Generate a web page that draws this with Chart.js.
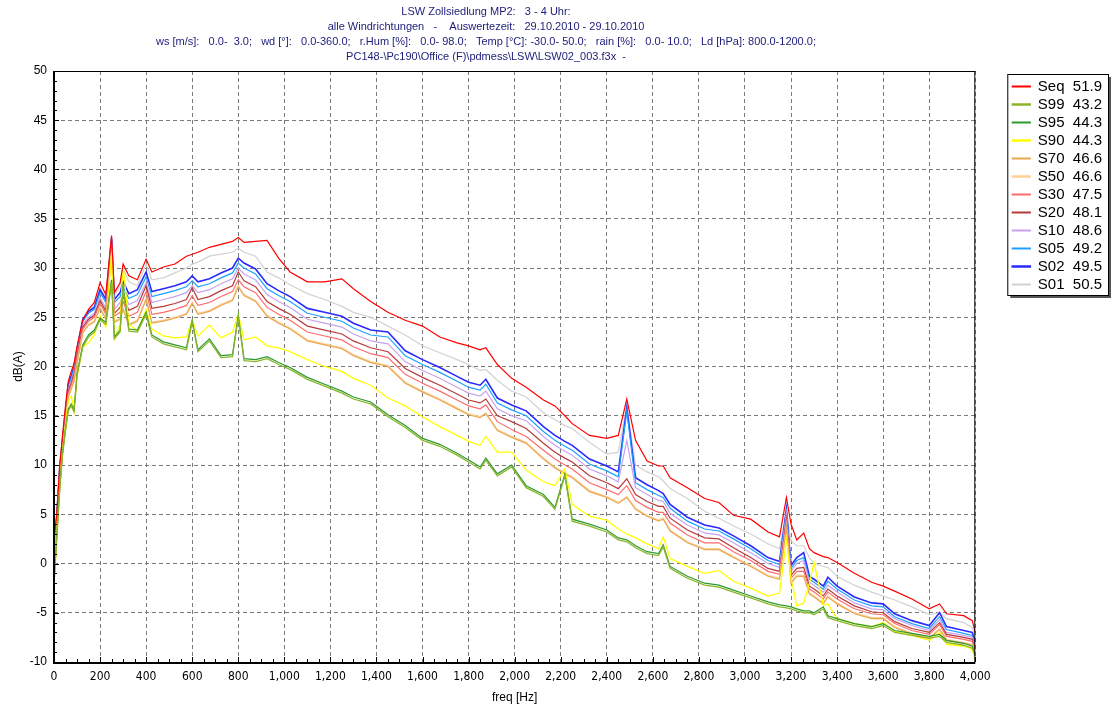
<!DOCTYPE html>
<html><head><meta charset="utf-8">
<script src="https://cdn.jsdelivr.net/npm/chart.js@4.4.1/dist/chart.umd.min.js"></script>
<style>html,body{margin:0;padding:0;background:#fff;}#wrap{position:relative;width:1112px;height:705px;}</style>
</head><body><div id="wrap"><canvas id="c" width="1112" height="705"></canvas></div>
<script>
const titleLines = [
  'LSW Zollsiedlung MP2:   3 - 4 Uhr:',
  'alle Windrichtungen   -    Auswertezeit:   29.10.2010 - 29.10.2010',
  'ws [m/s]:   0.0-  3.0;   wd [°]:   0.0-360.0;   r.Hum [%]:   0.0- 98.0;   Temp [°C]: -30.0- 50.0;   rain [%]:   0.0- 10.0;   Ld [hPa]: 800.0-1200.0;',
  'PC148-\\Pc190\\Office (F)\\pdmess\\LSW\\LSW02_003.f3x  -'
];
const xTitle = 'freq [Hz]';
const yTitle = 'dB(A)';
const seriesNames = ['Seq', 'S99', 'S95', 'S90', 'S70', 'S50', 'S30', 'S20', 'S10', 'S05', 'S02', 'S01'];
const seriesTotals = ['51.9', '43.2', '44.3', '44.3', '46.6', '46.6', '47.5', '48.1', '48.6', '49.2', '49.5', '50.5'];

const freq = [0, 12, 25, 37, 50, 62, 75, 87, 100, 125, 150, 175, 200, 225, 250, 262, 287, 300, 325, 362,
  400, 425, 475, 525, 575, 600, 625, 675, 725, 775, 800, 825, 875, 925, 975, 1025, 1100, 1175, 1250, 1300,
  1375, 1450, 1525, 1600, 1675, 1750, 1800, 1850, 1875, 1925, 1987, 2050, 2125, 2175, 2218, 2250, 2325, 2400, 2450, 2487,
  2525, 2575, 2625, 2645, 2675, 2750, 2825, 2887, 2950, 3025, 3100, 3150, 3180, 3200, 3225, 3255, 3280, 3300, 3340, 3360,
  3400, 3475, 3550, 3600, 3650, 3725, 3800, 3845, 3875, 3950, 3987, 4000];

const seq = [2.5, 5, 10, 13, 16, 18.5, 19.5, 20.3, 22, 24.7, 25.8, 26.5, 28.5, 27.3, 33.3, 27.5, 28.5, 30.4, 29.2, 28.8,
  30.9, 29.6, 30.1, 30.4, 31.2, 31.4, 31.6, 32.1, 32.4, 32.7, 33.1, 32.6, 32.7, 32.8, 31.0, 29.6, 28.6, 28.6, 28.9, 27.9,
  26.6, 25.5, 24.7, 24.1, 23.0, 22.4, 22.1, 21.7, 21.9, 20.2, 18.8, 17.9, 16.6, 16.0, 15.0, 14.2, 13.0, 12.7, 13.0, 16.7,
  12.5, 10.4, 9.9, 9.9, 8.7, 7.7, 6.6, 6.2, 4.9, 4.5, 3.2, 2.7, 6.7, 4.0, 2.4, 3.1, 1.5, 1.1, 0.7, 0.6,
  0.1, -1.0, -1.9, -2.3, -2.8, -3.6, -4.6, -4.1, -5.1, -5.3, -5.8, -7.0];
const s99 = [-2, 2.5, 7.5, 11, 13.5, 15.5, 16, 15.4, 19.1, 22, 23, 23.5, 24.7, 24.3, 28.5, 22.8, 23.5, 27.9, 23.6, 23.5,
  25.3, 23.0, 22.3, 22.0, 21.7, 24.5, 21.5, 22.6, 20.9, 21.0, 25.0, 20.6, 20.5, 20.8, 20.2, 19.7, 18.7, 18.0, 17.3, 16.7,
  16.2, 14.9, 13.8, 12.5, 11.9, 11.0, 10.3, 9.6, 10.5, 8.9, 9.8, 7.7, 6.8, 5.5, 8.9, 4.3, 3.8, 3.2, 2.4, 2.2,
  1.6, 1.0, 0.8, 1.7, -0.5, -1.5, -2.2, -2.4, -2.9, -3.5, -4.1, -4.4, -4.5, -4.6, -4.8, -5.0, -5.0, -5.2, -4.6, -5.5,
  -5.8, -6.3, -6.6, -6.3, -7.0, -7.3, -7.6, -7.4, -8.0, -8.3, -8.6, -9.4];
const s95 = [-1.8, 2.7, 7.7, 11.2, 13.7, 15.7, 16.2, 15.6, 19.3, 22.2, 23.2, 23.7, 24.9, 24.5, 28.8, 23.0, 23.7, 28.1, 23.8, 23.7,
  25.5, 23.2, 22.5, 22.2, 21.9, 24.7, 21.7, 22.8, 21.1, 21.2, 25.2, 20.8, 20.7, 21.0, 20.4, 19.9, 18.9, 18.2, 17.5, 16.9,
  16.4, 15.1, 14.0, 12.7, 12.1, 11.2, 10.5, 9.8, 10.7, 9.1, 10.0, 7.9, 7.0, 5.7, 9.1, 4.5, 4.0, 3.4, 2.6, 2.4,
  1.8, 1.2, 1.0, 1.9, -0.3, -1.3, -2.0, -2.2, -2.7, -3.3, -3.9, -4.2, -4.3, -4.4, -4.6, -4.8, -4.8, -5.0, -4.4, -5.3,
  -5.6, -6.1, -6.4, -6.1, -6.8, -7.1, -7.4, -7.2, -7.8, -8.1, -8.4, -9.2];
const s90 = [-2.5, 3, 8, 11.5, 14, 16.5, 17, 15.4, 19, 22, 22.4, 23.2, 25.2, 24, 31.5, 22.8, 24.3, 30.2, 24.3, 23.6,
  25.8, 23.8, 23.1, 22.9, 23.0, 24.7, 23.1, 24.2, 22.9, 23.5, 25.3, 22.7, 23.0, 22.1, 21.9, 21.5, 20.7, 20.0, 19.5, 18.8,
  18.1, 16.8, 16.0, 14.9, 13.9, 13.0, 12.4, 12.0, 12.9, 11.3, 11.3, 9.5, 8.3, 7.9, 9.6, 6.0, 4.8, 4.4, 3.5, 3.0,
  2.6, 2.0, 1.5, 2.7, 0.5, -0.3, -1.0, -0.7, -1.8, -2.5, -3.3, -3.0, 2.5, -1.5, -4.3, -4.0, -2.0, 0.1, -4.2, -4.1,
  -5.6, -6.1, -6.4, -6.0, -6.9, -7.3, -7.8, -7.0, -8.2, -8.4, -8.7, -9.7];
const s70 = [0.2, 3.7, 8.6, 11.3, 14.2, 16.9, 17.7, 18.5, 20.3, 23.4, 24.2, 24.5, 25.9, 24.8, 31.6, 24.5, 24.8, 25.8, 24.2, 24.6,
  26.8, 24.4, 24.6, 24.9, 25.3, 26.4, 25.3, 25.6, 26.2, 26.7, 28.1, 27.2, 26.6, 25.1, 24.4, 23.8, 22.6, 22.2, 21.8, 21.1,
  20.4, 20.0, 18.3, 17.4, 16.6, 15.7, 15.1, 14.8, 15.2, 13.5, 12.8, 12.2, 10.6, 9.7, 9.1, 8.7, 7.3, 6.7, 6.1, 6.7,
  5.5, 4.8, 4.3, 4.5, 3.3, 2.1, 1.4, 1.4, 0.6, -0.3, -1.3, -1.6, 3.7, -2.0, -1.3, -1.3, -3.1, -3.4, -4.1, -3.4,
  -4.1, -5.1, -5.6, -5.6, -6.5, -7.2, -7.6, -6.7, -7.8, -8.1, -8.3, -9.3];
const s50 = [0.3, 3.8, 8.7, 11.4, 14.3, 17.0, 17.8, 18.6, 20.4, 23.5, 24.3, 24.6, 26.0, 24.9, 31.7, 24.6, 24.9, 25.9, 24.3, 24.7,
  26.9, 24.5, 24.7, 25.0, 25.4, 26.5, 25.4, 25.7, 26.3, 26.8, 28.2, 27.3, 26.7, 25.2, 24.5, 23.9, 22.7, 22.3, 21.9, 21.2,
  20.5, 20.1, 18.4, 17.5, 16.7, 15.8, 15.2, 14.9, 15.3, 13.6, 12.9, 12.3, 10.7, 9.8, 9.2, 8.8, 7.4, 6.8, 6.2, 6.8,
  5.6, 4.9, 4.4, 4.6, 3.4, 2.2, 1.5, 1.5, 0.7, -0.2, -1.2, -1.5, 3.8, -1.9, -1.2, -1.2, -3.0, -3.3, -4.0, -3.3,
  -4.0, -5.0, -5.5, -5.5, -6.4, -7.1, -7.5, -6.6, -7.7, -8.0, -8.2, -9.2];
const s30 = [0.6, 4.0, 8.9, 11.6, 14.6, 17.3, 18.1, 19.0, 20.8, 23.8, 24.6, 25.0, 26.4, 25.3, 32.0, 25.1, 25.5, 26.6, 25.1, 25.5,
  27.6, 25.3, 25.5, 25.8, 26.2, 27.2, 26.2, 26.5, 27.1, 27.6, 28.8, 28.1, 27.5, 26.0, 25.3, 24.7, 23.5, 23.1, 22.7, 22.0,
  21.3, 20.9, 19.2, 18.3, 17.5, 16.6, 16.0, 15.7, 16.1, 14.4, 13.6, 12.9, 11.5, 10.6, 10.0, 9.6, 8.2, 7.5, 7.0, 7.9,
  6.4, 5.7, 5.2, 5.2, 4.1, 2.9, 2.1, 2.1, 1.2, 0.3, -0.8, -1.1, 4.2, -1.5, -0.8, -0.8, -2.6, -2.9, -3.6, -2.9,
  -3.6, -4.6, -5.1, -5.2, -6.1, -6.8, -7.2, -6.2, -7.4, -7.7, -7.9, -8.9];
const s20 = [0.8, 4.2, 9.1, 11.8, 14.8, 17.5, 18.3, 19.3, 21.1, 24.0, 24.8, 25.2, 26.7, 25.6, 32.2, 25.4, 26.0, 27.1, 25.7, 26.1,
  28.2, 25.9, 26.1, 26.4, 26.8, 28.0, 26.8, 27.1, 27.7, 28.2, 29.6, 28.7, 28.1, 26.6, 25.9, 25.3, 24.1, 23.7, 23.3, 22.6,
  21.9, 21.5, 19.8, 18.9, 18.1, 17.2, 16.6, 16.3, 16.7, 15.0, 14.4, 13.7, 12.2, 11.3, 10.7, 10.3, 8.9, 8.2, 7.6, 8.6,
  7.0, 6.3, 5.8, 5.8, 4.6, 3.4, 2.6, 2.5, 1.6, 0.6, -0.5, -0.8, 4.5, -1.2, -0.5, -0.4, -2.3, -2.6, -3.3, -2.6,
  -3.3, -4.3, -4.9, -5.0, -5.9, -6.6, -7.0, -6.0, -7.2, -7.5, -7.7, -8.7];
const s10 = [1.1, 4.4, 9.3, 12.0, 15.0, 17.7, 18.5, 19.5, 21.3, 24.3, 25.0, 25.4, 27.0, 25.9, 32.5, 25.8, 26.5, 27.5, 26.3, 26.7,
  28.5, 26.5, 26.8, 27.1, 27.5, 28.2, 27.5, 27.8, 28.4, 28.9, 30.0, 29.4, 28.8, 27.3, 26.6, 26.0, 24.8, 24.4, 24.0, 23.3,
  22.6, 22.3, 20.5, 19.6, 18.8, 17.9, 17.3, 17.0, 17.5, 15.7, 15.0, 14.5, 12.9, 12.0, 11.4, 11.0, 9.6, 8.9, 8.3, 12.5,
  7.7, 7.0, 6.4, 6.3, 5.1, 3.9, 3.1, 2.9, 2.1, 1.1, 0.0, -0.4, 5.0, -0.8, 0.0, 0.3, -1.9, -2.2, -2.9, -2.2,
  -2.9, -4.0, -4.6, -4.7, -5.6, -6.3, -6.8, -5.7, -7.0, -7.3, -7.5, -8.5];
const s05 = [1.3, 4.6, 9.6, 12.3, 15.3, 18, 18.8, 19.8, 21.6, 24.6, 25.4, 25.8, 27.5, 26.5, 32.8, 26.5, 27.1, 28.1, 26.9, 27.3,
  29.1, 27.1, 27.4, 27.7, 28.1, 28.7, 28.1, 28.4, 29.0, 29.5, 30.5, 30.0, 29.4, 27.9, 27.2, 26.6, 25.4, 25.0, 24.6, 23.9,
  23.2, 23.0, 21.1, 20.2, 19.4, 18.5, 17.9, 17.6, 18.2, 16.3, 15.6, 15.0, 13.4, 12.5, 11.9, 11.5, 10.1, 9.4, 8.8, 15.5,
  8.2, 7.5, 6.9, 6.7, 5.6, 4.3, 3.5, 3.3, 2.5, 1.5, 0.3, -0.1, 5.3, -0.5, 0.3, 0.6, -1.6, -1.9, -2.6, -1.8,
  -2.6, -3.7, -4.3, -4.4, -5.4, -6.1, -6.6, -5.4, -6.7, -7.1, -7.3, -8.3];
const s02 = [1.5, 4.8, 9.8, 12.5, 15.5, 18.2, 19, 20, 21.8, 24.8, 25.6, 26, 27.8, 26.8, 33, 26.8, 27.5, 28.6, 27.4, 27.8,
  29.6, 27.6, 27.9, 28.2, 28.6, 29.2, 28.6, 28.9, 29.5, 30.0, 31.0, 30.5, 29.9, 28.4, 27.7, 27.1, 25.9, 25.5, 25.1, 24.4,
  23.7, 23.5, 21.6, 20.7, 19.9, 19.0, 18.4, 18.1, 18.7, 16.8, 16.1, 15.5, 13.9, 13.0, 12.4, 12.0, 10.6, 9.9, 9.3, 15.8,
  8.7, 8.0, 7.4, 7.1, 6.0, 4.7, 3.9, 3.6, 2.8, 1.8, 0.6, 0.2, 5.5, -0.2, 0.6, 1.1, -1.3, -1.6, -2.3, -1.4,
  -2.3, -3.4, -4.0, -4.1, -5.1, -5.8, -6.3, -5.0, -6.4, -6.8, -7.0, -8.0];
const s01 = [2, 4.5, 9.5, 12.8, 15.5, 18, 19.2, 20, 21.7, 24.5, 25.6, 26.2, 28, 27, 33, 27.2, 28.2, 30, 28.6, 28.2,
  30.4, 28.8, 29, 29.5, 30, 30.4, 30.6, 31.2, 31.4, 31.6, 32.0, 31.6, 31.2, 29.6, 29.0, 28.3, 27.4, 26.8, 26.1, 25.5,
  25.0, 24.1, 23.2, 22.1, 21.4, 20.7, 20.2, 19.6, 19.7, 18.6, 17.5, 16.9, 15.3, 14.6, 14.0, 13.7, 12.3, 11.1, 11.3, 16.0,
  10.0, 9.3, 8.8, 8.4, 7.6, 6.6, 5.3, 4.6, 3.8, 3.0, 2.0, 1.5, 5.2, 2.3, 1.8, 1.8, 0.6, 0.0, -0.3, -0.4,
  -1.3, -2.2, -2.9, -3.3, -3.7, -4.4, -5.2, -5.0, -5.6, -6.0, -6.5, -7.3];

const seriesValues = [seq, s99, s95, s90, s70, s50, s30, s20, s10, s05, s02, s01];
const seriesColors = ['#ff0000', '#8db52a', '#2e9a2e', '#ffff00', '#e8a850', '#ffcf99', '#ff6a6a', '#b83a3a', '#c7a3ee', '#1ea0ff', '#2a2aff', '#d2d2d2'];
const seriesWidths = [1.2, 1.3, 1.2, 1.3, 1.2, 1.3, 1.2, 1.2, 1.2, 1.2, 1.6, 1.2];

const datasets = seriesNames.map((n, k) => ({
  label: n + '  ' + seriesTotals[k],
  data: freq.map((f, i) => ({x: f, y: seriesValues[k][i]})),
  borderColor: seriesColors[k],
  backgroundColor: seriesColors[k],
  borderWidth: seriesWidths[k],
  pointRadius: 0,
  tension: 0,
  fill: false
}));

const FONT = "'Liberation Sans', Arial, sans-serif";

const titlePlugin = {
  id: 'multiTitle',
  afterDraw(chart) {
    const ctx = chart.ctx;
    ctx.save();
    ctx.fillStyle = '#1c1c7a';
    ctx.font = '11px ' + FONT;
    ctx.textAlign = 'center';
    ctx.textBaseline = 'middle';
    titleLines.forEach((t, i) => ctx.fillText(t, 486, 12 + i * 15));
    ctx.restore();
  }
};

const spacerPlugin = {
  id: 'legendSpacer',
  beforeInit(chart) {
    if (!Chart.layouts) return;
    const box = {
      position: 'right', weight: -10, fullSize: false, options: {},
      width: 0, height: 0, top: 0, left: 0, right: 0, bottom: 0,
      isHorizontal() { return false; },
      update(maxWidth, maxHeight) { this.width = 34; this.height = maxHeight; return {width: 34, height: maxHeight}; },
      draw() {}
    };
    Chart.layouts.addBox(chart, box);
  }
};

const framePlugin = {
  id: 'legendFrame',
  afterDraw(chart) {
    const lg = chart.legend;
    if (!lg || !lg.legendHitBoxes || !lg.legendHitBoxes.length) return;
    const hb = lg.legendHitBoxes;
    const l = hb[0].left - 5, t = hb[0].top - 5;
    const r = chart.width - 4;
    const b = hb[hb.length - 1].top + hb[hb.length - 1].height + 3;
    const ctx = chart.ctx;
    ctx.save();
    ctx.fillStyle = '#555';
    ctx.fillRect(l + 3, b, r - l, 3);
    ctx.fillRect(r, t + 3, 3, b - t);
    ctx.strokeStyle = '#000';
    ctx.lineWidth = 1;
    ctx.strokeRect(l + 0.5, t + 0.5, r - l, b - t);
    ctx.restore();
  }
};

const minorTickPlugin = {
  id: 'minorTicks',
  afterDraw(chart) {
    const ctx = chart.ctx, xs = chart.scales.x, ys = chart.scales.y, a = chart.chartArea;
    ctx.save();
    ctx.strokeStyle = '#000';
    ctx.lineWidth = 1;
    ctx.beginPath();
    for (let v = 0; v <= 4000; v += 50) {
      const px = Math.round(xs.getPixelForValue(v)) + 0.5;
      const len = v % 200 === 0 ? 5 : 3;
      ctx.moveTo(px, a.bottom); ctx.lineTo(px, a.bottom - len);
    }
    for (let v = -10; v <= 50; v += 1) {
      const py = Math.round(ys.getPixelForValue(v)) + 0.5;
      const len = v % 5 === 0 ? 5 : 3;
      ctx.moveTo(a.left, py); ctx.lineTo(a.left + len, py);
    }
    ctx.stroke();
    ctx.strokeStyle = '#000';
    ctx.lineWidth = 1;
    ctx.beginPath();
    ctx.moveTo(a.left, a.top + 0.5); ctx.lineTo(a.right, a.top + 0.5);
    ctx.moveTo(a.right - 0.5, a.top); ctx.lineTo(a.right - 0.5, a.bottom);
    ctx.stroke();
    ctx.lineWidth = 2;
    ctx.beginPath();
    ctx.moveTo(a.left, a.top); ctx.lineTo(a.left, a.bottom + 1); ctx.lineTo(a.right, a.bottom + 1);
    ctx.stroke();
    ctx.restore();
  }
};

new Chart(document.getElementById('c'), {
  type: 'line',
  data: {datasets},
  plugins: [spacerPlugin, titlePlugin, framePlugin, minorTickPlugin],
  options: {
    responsive: false,
    animation: false,
    devicePixelRatio: 1,
    layout: {padding: {top: 71, left: 0, right: 0, bottom: 0}},
    plugins: {
      title: {display: false},
      tooltip: {enabled: false},
      legend: {
        position: 'right', align: 'start', fullSize: false,
        title: {display: true, text: '', font: {size: 1, lineHeight: 1}, padding: {top: 4, bottom: 0}},
        labels: {
          font: {family: FONT, size: 15, lineHeight: 1.02},
          color: '#000',
          boxWidth: 18, boxHeight: 1, padding: 3
        }
      }
    },
    scales: {
      x: {
        type: 'linear', min: 0, max: 4000,
        afterFit(s) { s.height = 43; },
        ticks: {
          stepSize: 200, autoSkip: false, maxRotation: 0, color: '#000', padding: 8,
          font: {family: "'Liberation Sans Narrow', 'DejaVu Sans Condensed', " + FONT, size: 12},
          callback: v => Number(v).toLocaleString('en-US')
        },
        grid: {color: '#7a7a7a', lineWidth: 1, drawTicks: false},
        border: {display: false, dash: [4, 3]},
        title: {display: true, text: xTitle, color: '#000', font: {family: FONT, size: 12}, padding: {top: 1, bottom: 0}}
      },
      y: {
        type: 'linear', min: -10, max: 50,
        afterFit(s) { s.width = 54; },
        ticks: {stepSize: 5, color: '#000', padding: 7, font: {family: FONT, size: 12}},
        grid: {color: '#7a7a7a', lineWidth: 1, drawTicks: false},
        border: {display: false, dash: [4, 3]},
        title: {display: true, text: yTitle, color: '#000', font: {family: FONT, size: 12}, padding: {top: 11, bottom: 0}}
      }
    }
  }
});
</script>
</body></html>
